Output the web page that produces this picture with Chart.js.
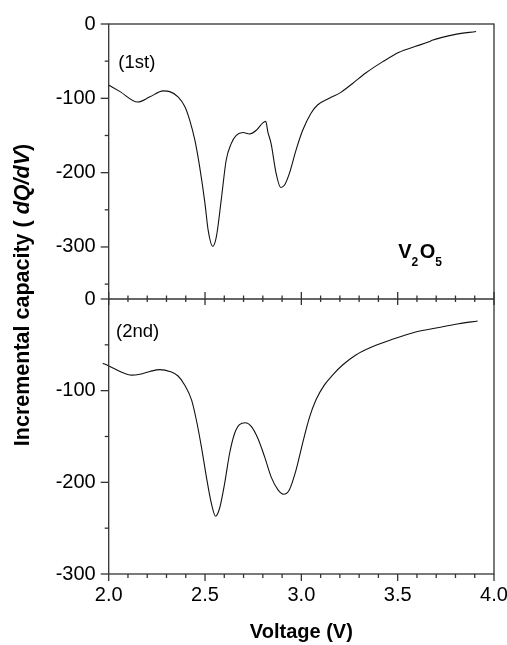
<!DOCTYPE html>
<html><head><meta charset="utf-8">
<script src="https://cdn.jsdelivr.net/npm/chart.js@4.4.1/dist/chart.umd.min.js"></script>
<style>html,body{margin:0;padding:0;background:#fff}canvas{display:block}</style>
</head><body>
<canvas id="c" width="507" height="645"></canvas>
<script>
// 1st cycle
const voltage1 = [2.000,2.059,2.150,2.214,2.283,2.317,2.360,2.395,2.420,2.447,2.472,2.500,2.516,2.540,2.559,2.584,2.610,2.636,2.662,2.697,2.731,2.766,2.800,2.815,2.826,2.843,2.869,2.893,2.912,2.938,2.972,3.007,3.050,3.084,3.145,3.205,3.266,3.334,3.421,3.507,3.593,3.662,3.679,3.800,3.907];
const cap1     = [-82,-91,-105,-98,-90,-91,-98,-111,-129,-156,-192,-242,-277,-299,-286,-237,-183,-161,-150,-146,-148,-143,-133,-131,-145,-161,-201,-220,-217,-201,-170,-143,-120,-109,-100,-92,-80,-66,-51,-38,-30,-24,-22,-14,-10];
// 2nd cycle
const voltage2 = [1.969,2.000,2.059,2.119,2.162,2.214,2.266,2.317,2.360,2.395,2.430,2.455,2.481,2.507,2.533,2.555,2.576,2.602,2.628,2.653,2.679,2.709,2.740,2.774,2.809,2.843,2.878,2.907,2.938,2.972,3.007,3.041,3.076,3.119,3.162,3.214,3.283,3.369,3.472,3.593,3.714,3.817,3.915];
const cap2     = [-70,-73,-79,-83,-82,-79,-77,-79,-84,-94,-110,-132,-161,-194,-223,-237,-228,-201,-168,-147,-137,-135,-139,-152,-172,-194,-208,-213,-208,-187,-157,-130,-110,-94,-83,-72,-61,-52,-44,-36,-31,-27,-24];
const xTickValues = [2.0,2.5,3.0,3.5,4.0];
const yTicksTop = [0,-100,-200,-300];
const yTicksBottom = [0,-100,-200,-300];
const panelLabels = ['(1st)','(2nd)'];
const xTitle = 'Voltage (V)';

const FONT = "'Liberation Sans', Arial, Helvetica, sans-serif";
const LINE = '#333';

const framePlugin = {
  id: 'frame',
  afterDraw(chart) {
    const {ctx, chartArea: a, scales: {x, yTop, yBot}} = chart;
    ctx.save();
    ctx.strokeStyle = LINE; ctx.lineWidth = 1.3;
    const ln = (x1,y1,x2,y2)=>{ctx.beginPath();ctx.moveTo(x1,y1);ctx.lineTo(x2,y2);ctx.stroke();};
    ctx.strokeRect(a.left, a.top, a.right - a.left, a.bottom - a.top);
    const mid = yBot.getPixelForValue(0);
    ln(a.left, mid, a.right, mid);
    for (let i = 0; i <= 20; i++) {
      const v = 2 + i * 0.1;
      const px = x.getPixelForValue(v);
      const major = i % 5 === 0;
      ln(px, a.bottom, px, a.bottom + (major ? 7 : 4));
      ln(px, mid - (major ? 7 : 3.5), px, mid + (major ? 6 : 3));
    }
    for (let v = 0; v >= -350; v -= 50) {
      const py = yTop.getPixelForValue(v);
      ln(a.left - (v % 100 === 0 ? 8 : 4), py, a.left, py);
    }
    for (let v = 0; v >= -300; v -= 50) {
      const py = yBot.getPixelForValue(v);
      ln(a.left - (v % 100 === 0 ? 8 : 4), py, a.left, py);
    }
    // texts
    ctx.fillStyle = '#000';
    ctx.textBaseline = 'middle';
    ctx.textAlign = 'left';
    ctx.font = '18.5px ' + FONT;
    ctx.fillText(panelLabels[0], x.getPixelForValue(2.05), yTop.getPixelForValue(-53));
    ctx.fillText(panelLabels[1], x.getPixelForValue(2.038), yBot.getPixelForValue(-36));
    // V2O5
    ctx.textBaseline = 'alphabetic';
    let tx = x.getPixelForValue(3.503);
    const ty = yTop.getPixelForValue(-315);
    const parts = [['V', 20, 0], ['2', 12, 8], ['O', 20, 0], ['5', 12, 8]];
    for (const [t, s, dy] of parts) {
      ctx.font = 'bold ' + s + 'px ' + FONT;
      ctx.fillText(t, tx, ty + dy);
      tx += ctx.measureText(t).width + (s === 12 ? 1.5 : 0);
    }
    // x title
    ctx.textAlign = 'center';
    ctx.textBaseline = 'middle';
    ctx.font = 'bold 20px ' + FONT;
    ctx.fillText(xTitle, (a.left + a.right) / 2, 632);
    // y title
    const segs = [['Incremental capacity ( ', 'bold 21.5px '], ['dQ/dV', 'italic bold 21.5px '], [')', 'bold 21.5px ']];
    let total = 0;
    for (const [t, f] of segs) { ctx.font = f + FONT; total += ctx.measureText(t).width; }
    ctx.translate(23, 295);
    ctx.rotate(-Math.PI / 2);
    ctx.textAlign = 'left';
    let sx = -total / 2;
    for (const [t, f] of segs) { ctx.font = f + FONT; ctx.fillText(t, sx, 0); sx += ctx.measureText(t).width; }
    ctx.restore();
  }
};

const tickFont = {family: FONT, size: 20};
new Chart(document.getElementById('c'), {
  type: 'scatter',
  data: {
    datasets: [
      {data: voltage1.map((v,i)=>({x:v,y:cap1[i]})), yAxisID: 'yTop', showLine: true, borderColor: '#111', borderWidth: 1.1, pointRadius: 0, cubicInterpolationMode: 'monotone'},
      {data: voltage2.map((v,i)=>({x:v,y:cap2[i]})), yAxisID: 'yBot', showLine: true, borderColor: '#111', borderWidth: 1.1, pointRadius: 0, cubicInterpolationMode: 'monotone', clip: {left: 10, top: 0, right: 0, bottom: 0}}
    ]
  },
  options: {
    responsive: false, animation: false, devicePixelRatio: 1,
    layout: {padding: {top: 24, right: 13, left: 0, bottom: 0}},
    plugins: {legend: {display: false}, tooltip: {enabled: false}},
    scales: {
      x: {
        type: 'linear', min: 2, max: 4, position: 'bottom',
        grid: {display: false, drawTicks: false}, border: {display: false},
        afterBuildTicks: s => { s.ticks = xTickValues.map(v => ({value: v})); },
        ticks: {font: tickFont, color: '#000', padding: 9, maxRotation: 0, callback: v => Number(v).toFixed(1)},
        afterFit: s => { s.height = 71; s.paddingLeft = 0; s.paddingRight = 0; }
      },
      yBot: {
        type: 'linear', position: 'left', stack: 'v', stackWeight: 1, min: -300, max: 0,
        grid: {display: false, drawTicks: false}, border: {display: false},
        afterBuildTicks: s => { s.ticks = yTicksBottom.map(v => ({value: v})); },
        ticks: {font: tickFont, color: '#000', padding: 13},
        afterFit: s => { s.width = 108.7; s.paddingTop = 0; s.paddingBottom = 0; }
      },
      yTop: {
        type: 'linear', position: 'left', stack: 'v', stackWeight: 1, min: -370, max: 0,
        grid: {display: false, drawTicks: false}, border: {display: false},
        afterBuildTicks: s => { s.ticks = yTicksTop.map(v => ({value: v})); },
        ticks: {font: tickFont, color: '#000', padding: 13},
        afterFit: s => { s.width = 108.7; s.paddingTop = 0; s.paddingBottom = 0; }
      }
    }
  },
  plugins: [framePlugin]
});
</script>
</body></html>
